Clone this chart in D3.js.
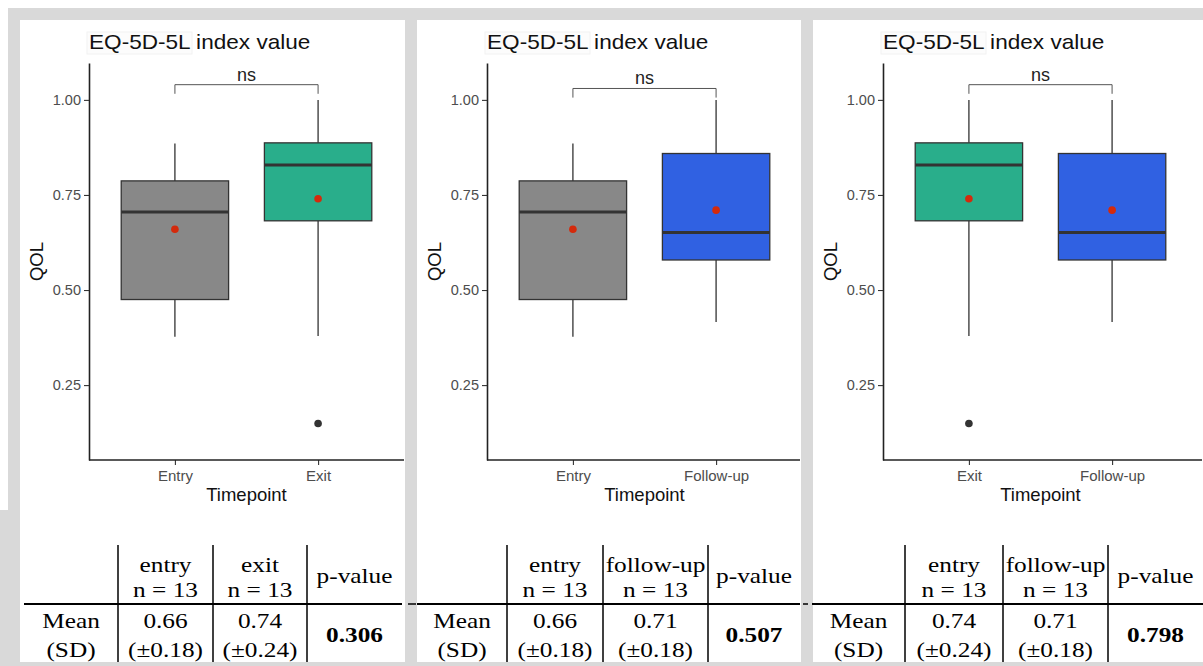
<!DOCTYPE html>
<html lang="en">
<head>
<meta charset="UTF-8">
<title>EQ-5D-5L index value</title>
<script src="https://d3js.org/d3.v7.min.js"></script>
<style>
  body { margin: 0; background: #fff; }
  svg { display: block; }
</style>
</head>
<body>
<div id="my_dataviz"></div>
<script>
// box statistics, one entry per timepoint
var groups = ["Entry", "Exit", "Follow-up"];
var whiskerLow = [0.377, 0.379, 0.416];
var q1 = [0.475, 0.682, 0.579];
var medians = [0.705, 0.829, 0.651];
var q3 = [0.787, 0.887, 0.859];
var whiskerHigh = [0.885, 1.00, 1.00];
var means = [0.66, 0.74, 0.71];
var outliers = [[], [0.149], []];
var fills = ["#888888", "#29ae8b", "#3061e2"];

// one comparison per plot
var comparisons = [["Entry", "Exit"], ["Entry", "Follow-up"], ["Exit", "Follow-up"]];
var bracketValue = [1.04, 1.03, 1.04];
var sigLabels = ["ns", "ns", "ns"];
var yTicks = [0.25, 0.50, 0.75, 1.00];

// the little tables under each plot
var colHeads = [["entry", "exit"], ["entry", "follow-up"], ["entry", "follow-up"]];
var nLabels = [["n = 13", "n = 13"], ["n = 13", "n = 13"], ["n = 13", "n = 13"]];
var meanLabels = [["0.66", "0.74"], ["0.66", "0.71"], ["0.74", "0.71"]];
var sdLabels = [["(±0.18)", "(±0.24)"], ["(±0.18)", "(±0.18)"], ["(±0.24)", "(±0.18)"]];
var pValues = ["0.306", "0.507", "0.798"];

// layout
var width = 1203, height = 666;
var panelLeft = [20, 417, 813], panelRight = [405, 801, 1203];
var panelTop = 20, panelBottom = 662;
var axisX = [89, 487, 883];
var tableCols = [[24, 118, 213, 307, 402], [417, 507, 603, 708, 800], [812, 905, 1003, 1108, 1203]];
var plotTop = 63, plotBottom = 460, plotWidth = 315;
var sans = "'Liberation Sans', Arial, sans-serif";
var serif = "'Liberation Serif', 'Times New Roman', serif";

var svg = d3.select("#my_dataviz")
  .append("svg")
    .attr("width", width)
    .attr("height", height);

// grey mat with white panels on it
svg.append("rect").attr("width", width).attr("height", height).attr("fill", "#d9d9d9");
svg.append("rect").attr("width", width).attr("height", 8).attr("fill", "#fff");
svg.append("rect").attr("width", 8).attr("height", 510).attr("fill", "#fff");

var y = d3.scaleLinear().domain([0.053, 1.097]).range([plotBottom, plotTop]);

comparisons.forEach(function(pair, i) {
  var g = svg.append("g");

  g.append("rect")
    .attr("x", panelLeft[i]).attr("y", panelTop)
    .attr("width", panelRight[i] - panelLeft[i])
    .attr("height", panelBottom - panelTop)
    .attr("fill", "#fff");

  var x = d3.scalePoint()
    .domain(pair)
    .range([axisX[i], axisX[i] + plotWidth])
    .padding(0.6);
  var boxW = x.step() * 0.75;

  // title (with the faint box round the first word)
  g.append("rect")
    .attr("x", axisX[i] - 2).attr("y", 32)
    .attr("width", 105).attr("height", 22)
    .attr("fill", "#fcfcfc").attr("stroke", "#f2f2f2");
  g.append("text")
    .attr("transform", "translate(" + axisX[i] + ",49) scale(1.13,1)")
    .style("font-family", sans).style("font-size", "20px").attr("fill", "#111")
    .text("EQ-5D-5L index value");

  // y axis
  var yAxis = g.append("g")
    .attr("transform", "translate(" + axisX[i] + ",0)")
    .call(d3.axisLeft(y).tickValues(yTicks).tickFormat(d3.format(".2f"))
      .tickSize(5).tickSizeOuter(0).tickPadding(3));
  yAxis.select(".domain").attr("stroke", "#222").attr("stroke-width", 1.6);
  yAxis.selectAll(".tick line").attr("stroke", "#333").attr("stroke-width", 1.1);
  yAxis.selectAll(".tick text").attr("fill", "#4d4d4d")
    .style("font-family", sans).style("font-size", "14.5px");

  // x axis
  var xAxis = g.append("g")
    .attr("transform", "translate(0," + plotBottom + ")")
    .call(d3.axisBottom(x).tickSize(5).tickPadding(5));
  xAxis.select(".domain").remove();
  xAxis.selectAll(".tick line").attr("stroke", "#333").attr("stroke-width", 1.1);
  xAxis.selectAll(".tick text").attr("fill", "#4d4d4d")
    .style("font-family", sans).style("font-size", "15px");
  g.append("line")
    .attr("x1", axisX[i]).attr("x2", panelRight[i] - 1)
    .attr("y1", plotBottom).attr("y2", plotBottom)
    .attr("stroke", "#222").attr("stroke-width", 1.6);

  g.append("text")
    .attr("x", axisX[i] + plotWidth / 2).attr("y", 501)
    .attr("text-anchor", "middle")
    .style("font-family", sans).style("font-size", "18.5px").attr("fill", "#111")
    .text("Timepoint");
  g.append("text")
    .attr("transform", "translate(" + (axisX[i] - 46) + "," + ((plotTop + plotBottom) / 2) + ") rotate(-90)")
    .attr("text-anchor", "middle")
    .style("font-family", sans).style("font-size", "18.5px").attr("fill", "#111")
    .text("QOL");

  // boxes
  pair.forEach(function(name) {
    var k = groups.indexOf(name);
    var cx = x(name);
    g.append("line")
      .attr("x1", cx).attr("x2", cx)
      .attr("y1", y(whiskerHigh[k])).attr("y2", y(q3[k]))
      .attr("stroke", "#333").attr("stroke-width", 1.3);
    g.append("line")
      .attr("x1", cx).attr("x2", cx)
      .attr("y1", y(q1[k])).attr("y2", y(whiskerLow[k]))
      .attr("stroke", "#333").attr("stroke-width", 1.3);
    g.append("rect")
      .attr("x", cx - boxW / 2).attr("y", y(q3[k]))
      .attr("width", boxW).attr("height", y(q1[k]) - y(q3[k]))
      .attr("fill", fills[k]).attr("stroke", "#333").attr("stroke-width", 1.3);
    g.append("line")
      .attr("x1", cx - boxW / 2).attr("x2", cx + boxW / 2)
      .attr("y1", y(medians[k])).attr("y2", y(medians[k]))
      .attr("stroke", "#333").attr("stroke-width", 3);
    g.selectAll(null)
      .data(outliers[k])
      .enter()
      .append("circle")
        .attr("cx", cx).attr("cy", function(d) { return y(d); })
        .attr("r", 3.8).attr("fill", "#333");
    g.append("circle")
      .attr("cx", cx).attr("cy", y(means[k]))
      .attr("r", 3.8).attr("fill", "#d42a0c");
  });

  // significance bracket
  var b = bracketValue[i];
  var x1 = x(pair[0]), x2 = x(pair[1]);
  g.append("path")
    .attr("d", "M" + x1 + "," + y(b - 0.024) + "V" + y(b) + "H" + x2 + "V" + y(b - 0.024))
    .attr("fill", "none").attr("stroke", "#555").attr("stroke-width", 1);
  g.append("text")
    .attr("x", (x1 + x2) / 2).attr("y", y(b) - 4)
    .attr("text-anchor", "middle")
    .style("font-family", sans).style("font-size", "18px").attr("fill", "#222")
    .text(sigLabels[i]);

  // table
  var c = tableCols[i];
  [1, 2, 3].forEach(function(j) {
    g.append("line")
      .attr("x1", c[j]).attr("x2", c[j])
      .attr("y1", 545).attr("y2", panelBottom)
      .attr("stroke", "#000").attr("stroke-width", 1.5);
  });
  g.append("line")
    .attr("x1", c[0]).attr("x2", c[4])
    .attr("y1", 604).attr("y2", 604)
    .attr("stroke", "#000").attr("stroke-width", 2);

  function cell(txt, col, base, bold) {
    g.append("text")
      .attr("transform", "translate(" + ((c[col] + c[col + 1]) / 2) + "," + base + ") scale(1.15,1)")
      .attr("text-anchor", "middle")
      .style("font-family", serif).style("font-size", "22px")
      .style("font-weight", bold ? "bold" : "normal")
      .attr("fill", "#000")
      .text(txt);
  }
  [0, 1].forEach(function(j) {
    cell(colHeads[i][j], j + 1, 572);
    cell(nLabels[i][j], j + 1, 597);
    cell(meanLabels[i][j], j + 1, 628);
    cell(sdLabels[i][j], j + 1, 657);
  });
  cell("p-value", 3, 583);
  cell("Mean", 0, 628);
  cell("(SD)", 0, 657);
  cell(pValues[i], 3, 642, true);
});

// stray ends of the table rules showing in the gutters
[[408, 416], [803, 808]].forEach(function(d) {
  svg.append("line")
    .attr("x1", d[0]).attr("x2", d[1])
    .attr("y1", 604).attr("y2", 604)
    .attr("stroke", "#000").attr("stroke-width", 1.5);
});
</script>
</body>
</html>
